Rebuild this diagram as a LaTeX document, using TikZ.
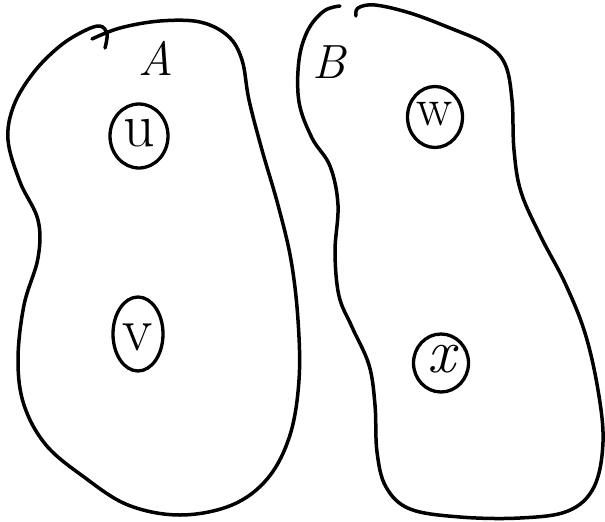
\documentclass[tikz,border=0pt]{standalone}
\usepackage{fontspec}
\usetikzlibrary{shapes.geometric}
\begin{document}
\begin{tikzpicture}[x=1pt,y=-1pt,
  stroke/.style={line width=3.5pt,line cap=round,line join=round},
  vtx/.style={ellipse,draw,line width=3.3pt,inner sep=0pt},
  vlab/.style={font=\fontsize{62}{62}\selectfont,inner sep=0pt},
  setlabel/.style={font=\fontsize{48}{48}\selectfont\itshape}]
\useasboundingbox (0,0) rectangle (605,522);
% blob A
\draw[stroke] plot[smooth,tension=0.6] coordinates {
 (92,39) (120,28) (160,21) (200,22) (228,36) (242,60) (249,100) (262,150)
 (278,205) (291,260) (298,320) (299,380) (290,435) (268,478) (232,505)
 (180,515) (128,505) (84,477) (46,445) (24,405) (18,360) (24,305)
 (38,258) (38,220) (20,182) (8,140) (14,105) (34,72) (60,46) (84,31)
 (100,26) (107,34) (105,48)};
% blob B
\draw[stroke] plot[smooth,tension=0.6] coordinates {
 (356,16) (358,8) (375,5) (410,13) (450,28) (486,44) (505,64) (512,100)
 (514,150) (521,192) (541,237) (565,283) (585,333) (598,390) (603,442)
 (594,487) (568,511) (520,518) (460,517) (410,509) (386,487) (377,452)
 (375,405) (369,365) (352,327) (339,296) (335,252) (338,205) (330,166)
 (312,138) (299,102) (299,60) (308,30) (324,11) (340,6)};
\node[setlabel] (A) at (156,58) {A};
\node[setlabel] (B) at (329,62) {B};
\node[vtx,minimum width=58pt,minimum height=64pt] (u) at (139,136) {};
\node[vlab] (ul) at ([yshift=3pt]u.center) {u};
\node[vtx,minimum width=50pt,minimum height=74pt] (v) at (138,334) {};
\node[vlab] (vl) at ([yshift=-3pt]v.center) {v};
\node[vtx,minimum width=55pt,minimum height=61pt] (w) at (435,117) {};
\node[vlab,font=\fontsize{54}{54}\selectfont] (wl) at ([yshift=3pt]w.center) {w};
\node[vtx,minimum width=55pt,minimum height=58pt] (x) at (441,363) {};
\node[vlab,font=\fontsize{62}{62}\selectfont\itshape] (xl) at ([yshift=4pt]x.center) {x};
\end{tikzpicture}
\end{document}
